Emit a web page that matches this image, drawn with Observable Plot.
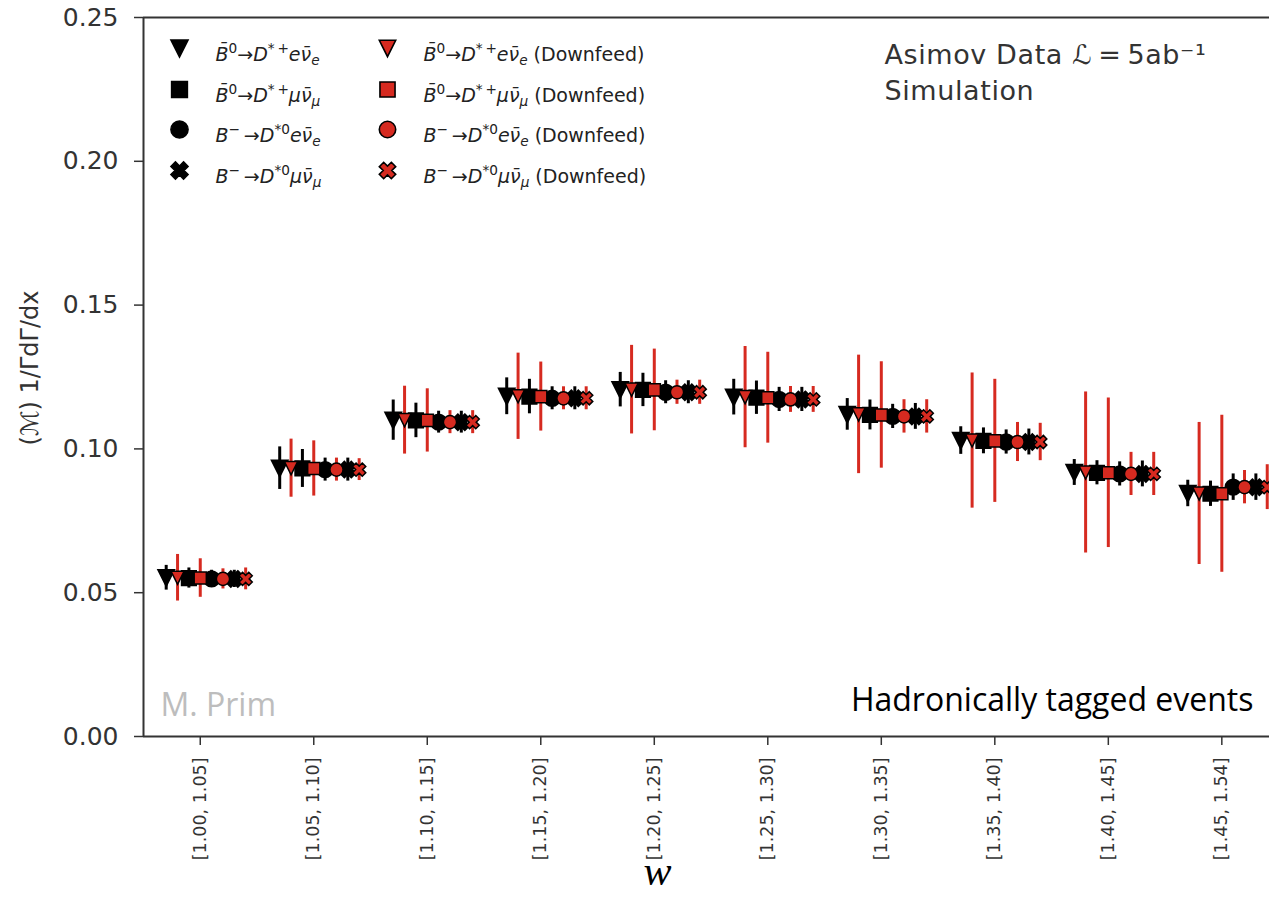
<!DOCTYPE html>
<html>
<head>
<meta charset="utf-8">
<script src="https://cdn.jsdelivr.net/npm/d3@7"></script>
<script src="https://cdn.jsdelivr.net/npm/@observablehq/plot@0.6"></script>
<style>
  html, body { margin: 0; padding: 0; background: #fff; }
  #chart { width: 1269px; height: 909px; overflow: hidden; }
</style>
</head>
<body>
<div id="chart"></div>
<script>
// w bins
const wBins = ["[1.00, 1.05]", "[1.05, 1.10]", "[1.10, 1.15]", "[1.15, 1.20]", "[1.20, 1.25]",
               "[1.25, 1.30]", "[1.30, 1.35]", "[1.35, 1.40]", "[1.40, 1.45]", "[1.45, 1.54]"];
const yTicks = [0, 0.05, 0.10, 0.15, 0.20, 0.25];

// normalized differential rate per bin, by channel
const valB0e  = [0.0552, 0.0933, 0.1100, 0.1183, 0.1206, 0.1180, 0.1120, 0.1029, 0.0918, 0.0845];
const valB0mu = [0.0551, 0.0932, 0.1099, 0.1182, 0.1205, 0.1178, 0.1118, 0.1028, 0.0917, 0.0844];
const valBme  = [0.0548, 0.0928, 0.1093, 0.1176, 0.1197, 0.1172, 0.1113, 0.1024, 0.0913, 0.0867];
const valBmmu = [0.0548, 0.0928, 0.1093, 0.1176, 0.1197, 0.1172, 0.1113, 0.1024, 0.0913, 0.0867];

// uncertainties (nominal)
const errB0e  = [0.0043, 0.0074, 0.0070, 0.0064, 0.0060, 0.0062, 0.0055, 0.0048, 0.0045, 0.0046];
const errB0mu = [0.0035, 0.0066, 0.0060, 0.0060, 0.0058, 0.0058, 0.0052, 0.0045, 0.0042, 0.0044];
const errBme  = [0.0030, 0.0040, 0.0038, 0.0040, 0.0040, 0.0042, 0.0042, 0.0042, 0.0042, 0.0046];
const errBmmu = [0.0030, 0.0040, 0.0038, 0.0040, 0.0040, 0.0042, 0.0045, 0.0045, 0.0045, 0.0046];

// uncertainties including downfeed
const errB0eDf  = [0.0081, 0.0101, 0.0118, 0.0150, 0.0154, 0.0176, 0.0206, 0.0235, 0.0280, 0.0247];
const errB0muDf = [0.0067, 0.0096, 0.0110, 0.0120, 0.0142, 0.0158, 0.0185, 0.0214, 0.0260, 0.0273];
const errBmeDf  = [0.0035, 0.0040, 0.0040, 0.0040, 0.0042, 0.0045, 0.0058, 0.0068, 0.0075, 0.0058];
const errBmmuDf = [0.0038, 0.0038, 0.0040, 0.0040, 0.0042, 0.0045, 0.0058, 0.0065, 0.0075, 0.0078];

// legend labels (^{} superscript, _{} subscript)
const channelLabels = [
  "B\u0304^{0}\u2192D^{*\u2009+}e\u03bd\u0304_{e}",
  "B\u0304^{0}\u2192D^{*\u2009+}\u03bc\u03bd\u0304_{\u03bc}",
  "B^{\u2212}\u2009\u2192D^{*0}e\u03bd\u0304_{e}",
  "B^{\u2212}\u2009\u2192D^{*0}\u03bc\u03bd\u0304_{\u03bc}"
];
const downfeedSuffix = " (Downfeed)";

const RED = "#d62a20";
const LEGEND_FS = 19;

// marker shapes
const rOf = size => Math.sqrt(size / Math.PI);
const triDown = { draw(ctx, size) { const r = rOf(size); ctx.moveTo(-r, -r); ctx.lineTo(r, -r); ctx.lineTo(0, r); ctx.closePath(); } };
const squareSym = { draw(ctx, size) { const r = rOf(size) * 0.92; ctx.rect(-r, -r, 2 * r, 2 * r); } };
const circleSym = { draw(ctx, size) { const r = rOf(size); ctx.moveTo(r, 0); ctx.arc(0, 0, r, 0, 2 * Math.PI); } };
const xSym = { draw(ctx, size) {
  const r = rOf(size), a = 0.36, L = 1;
  const pts = [[-a,-L],[a,-L],[a,-a],[L,-a],[L,a],[a,a],[a,L],[-a,L],[-a,a],[-L,a],[-L,-a],[-a,-a]]
    .map(([x, y]) => [(x - y) / Math.SQRT2, (x + y) / Math.SQRT2]);
  const k = r / d3.max(pts, p => Math.abs(p[0]));
  pts.forEach(([x, y], i) => i ? ctx.lineTo(x * k, y * k) : ctx.moveTo(x * k, y * k));
  ctx.closePath();
} };
const shapes = [triDown, squareSym, circleSym, xSym];

// eight series: nominal (black) and downfeed (red) for each channel
const channelVals = [valB0e, valB0mu, valBme, valBmmu];
const channelErrs = [errB0e, errB0mu, errBme, errBmmu];
const channelErrsDf = [errB0eDf, errB0muDf, errBmeDf, errBmmuDf];
const series = [];
channelVals.forEach((vals, c) => {
  series.push({ channel: c, downfeed: false, vals, errs: channelErrs[c] });
  series.push({ channel: c, downfeed: true, vals, errs: channelErrsDf[c] });
});
// each series is shifted inside its bin
series.forEach((s, k) => { s.shift = -0.3 + 0.1 * k; });

const rowsOf = s => s.vals.map((v, i) => ({ x: i + s.shift, y: v, lo: v - s.errs[i], hi: v + s.errs[i] }));

function seriesMarks(s) {
  const rows = rowsOf(s);
  const color = s.downfeed ? RED : "#000";
  return [
    Plot.ruleX(rows, { x: "x", y1: "lo", y2: "hi", stroke: color, strokeWidth: 3 }),
    Plot.dot(rows, { x: "x", y: "y", symbol: shapes[s.channel],
      r: s.downfeed ? 6.6 : 7.4, fill: color, stroke: "#000",
      strokeWidth: s.downfeed ? 1.5 : 2.6 })
  ];
}

// legend entries
function legendMarks() {
  const marks = [];
  const rowY = [48, 89, 129, 170];
  const colX = [179, 387];
  series.forEach(s => {
    const col = s.downfeed ? 1 : 0;
    const dx = colX[col] - 143, dy = rowY[s.channel] - 17;
    marks.push(Plot.dot([0], { frameAnchor: "top-left", dx, dy, symbol: shapes[s.channel],
      r: s.downfeed ? 8.2 : 8.6, fill: s.downfeed ? RED : "#000", stroke: "#000",
      strokeWidth: s.downfeed ? 1.6 : 1.5 }));
    marks.push(Plot.text([channelLabels[s.channel] + (s.downfeed ? downfeedSuffix : "")], {
      frameAnchor: "top-left", dx: dx + 36, dy, textAnchor: "start", lineAnchor: "middle",
      fontSize: LEGEND_FS, fill: "#222" }));
  });
  return marks;
}

const chart = Plot.plot({
  width: 1269,
  height: 909,
  marginLeft: 143,
  marginRight: 0,
  marginTop: 17,
  marginBottom: 173,
  style: { fontFamily: "DejaVu Sans", background: "#fff", overflow: "hidden" },
  x: { domain: [-0.5, 9.42] },
  y: { domain: [0, 0.25] },
  marks: [
    Plot.axisY({ ticks: yTicks, tickFormat: d3.format(".2f"), tickSize: 9, tickPadding: 16,
      fontSize: 25, label: null, color: "#333", strokeWidth: 1.5 }),
    Plot.axisX({ ticks: d3.range(wBins.length), tickFormat: i => wBins[i], tickRotate: -90,
      tickSize: 9, tickPadding: 12, fontSize: 17.5, label: null, color: "#333", strokeWidth: 1.5 }),
    Plot.ruleX([-0.5], { stroke: "#333", strokeWidth: 2 }),
    Plot.ruleY([0, 0.25], { stroke: "#333", strokeWidth: 2 }),
    Plot.text(["(\u2133) 1/\u0393d\u0393/dx"], { frameAnchor: "left", dx: -113, dy: -9, rotate: -90,
      textAnchor: "middle", fontSize: 24, fill: "#333" }),
    Plot.text(["w"], { frameAnchor: "bottom", dx: -49, dy: 148, fontSize: 42, fontStyle: "italic",
      fontFamily: "Liberation Serif", fill: "#000" }),
    Plot.text(["Asimov Data \u2112\u2009=\u20095ab\u207b\u00b9"], { frameAnchor: "top-left", dx: 741, dy: 38,
      textAnchor: "start", lineAnchor: "middle", fontSize: 27, fill: "#333",
      style: "letter-spacing:0.6px" }),
    Plot.text(["Simulation"], { frameAnchor: "top-left", dx: 741, dy: 74,
      textAnchor: "start", lineAnchor: "middle", fontSize: 27, fill: "#333" }),
    Plot.text(["Hadronically tagged events"], { frameAnchor: "bottom-right", dx: -16, dy: -36,
      textAnchor: "end", lineAnchor: "middle", fontSize: 32, fontFamily: "Open Sans", fill: "#000" }),
    Plot.text(["M. Prim"], { frameAnchor: "bottom-left", dx: 17, dy: -31,
      textAnchor: "start", lineAnchor: "middle", fontSize: 32, fontFamily: "Open Sans", fill: "#bdbdbd" }),
    ...series.filter(s => !s.downfeed).flatMap(seriesMarks),
    ...series.filter(s => s.downfeed).flatMap(seriesMarks),
    ...legendMarks()
  ]
});

document.getElementById("chart").appendChild(chart);

// light tracking on the upper-right annotation
d3.select(chart).selectAll("text").each(function () {
  if (this.textContent.startsWith("Asimov") || this.textContent === "Simulation")
    d3.select(this).attr("letter-spacing", "0.6");
});

// typeset the decay labels with italic symbols and raised / lowered indices
function typeset(el) {
  const src = el.textContent;
  const fs = LEGEND_FS;
  const tokens = [];
  let i = 0;
  const push = (text, kind, italic) => {
    const last = tokens[tokens.length - 1];
    if (last && last.kind === kind && last.italic === italic) last.text += text;
    else tokens.push({ text, kind, italic });
  };
  while (i < src.length) {
    if ((src[i] === "^" || src[i] === "_") && src[i + 1] === "{") {
      const end = src.indexOf("}", i);
      const body = src.slice(i + 2, end);
      const kind = src[i] === "^" ? "sup" : "sub";
      for (const ch of body) push(ch, kind, /[a-z\u03bc]/i.test(ch));
      i = end + 1;
    } else if (src.startsWith(downfeedSuffix, i)) {
      push(downfeedSuffix, "base", false);
      i += downfeedSuffix.length;
    } else {
      const ch = src[i];
      const italic = /[A-Za-z\u03bc\u03bd]/.test(ch);
      push(ch, "base", ch === "\u0304" ? !!(tokens.length && tokens[tokens.length - 1].italic) : italic);
      i += 1;
    }
  }
  const shift = { base: 0, sup: -0.42 * fs, sub: 0.25 * fs };
  const size = { base: fs, sup: fs * 0.72, sub: fs * 0.72 };
  const sel = d3.select(el);
  sel.text(null);
  let cur = 0;
  tokens.forEach((t, k) => {
    const target = shift[t.kind];
    const dy = k === 0 ? 0.32 * fs + target : target - cur;
    cur = target;
    sel.append("tspan")
      .attr("dy", dy.toFixed(2))
      .attr("font-size", size[t.kind])
      .attr("font-style", t.italic ? "italic" : "normal")
      .text(t.text);
  });
  sel.attr("dy", null);
}
d3.select(chart).selectAll("text").each(function () {
  if (this.textContent.includes("\u2192")) typeset(this);
});
</script>
</body>
</html>
